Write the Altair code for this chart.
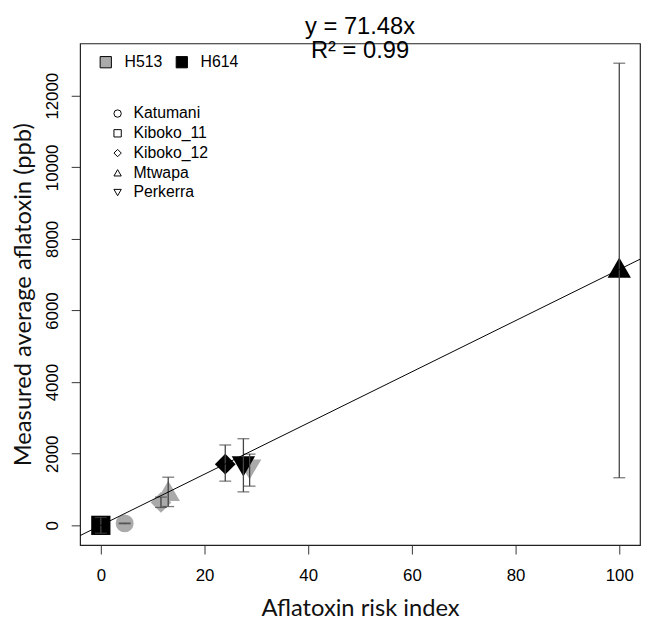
import altair as alt
import pandas as pd

# ---- data ----
variety = ["H513", "H513", "H513", "H513", "H614", "H614", "H614", "H614"]
site = ["Katumani", "Kiboko_12", "Mtwapa", "Perkerra", "Kiboko_11", "Kiboko_12", "Perkerra", "Mtwapa"]
risk_index = [4.6, 11.6, 13.0, 28.7, 0.0, 24.0, 27.5, 100.0]
aflatoxin = [55, 640, 960, 1560, 0, 1710, 1645, 7200]
err_low = [45, 500, 525, 1095, -220, 1235, 935, 1330]
err_high = [65, 790, 1345, 1990, 220, 2245, 2420, 12910]

site_order = ["Katumani", "Kiboko_11", "Kiboko_12", "Mtwapa", "Perkerra"]
site_shapes = ["circle", "square", "diamond", "triangle-up", "triangle-down"]
# marker areas, listed in reverse site order
size_sites = ["Perkerra", "Mtwapa", "Kiboko_12", "Kiboko_11", "Katumani"]
size_values = [560, 560, 440, 380, 330]
variety_order = ["H513", "H614"]
variety_colors = ["#aaaaaa", "#000000"]

fit_slope = 71.48
fit_x = [-4, 104]
eq_line1 = ["y = 71.48x"]
eq_line2 = ["R\u00b2 = 0.99"]
x_ticks = [0, 20, 40, 60, 80, 100]
y_ticks = [0, 2000, 4000, 6000, 8000, 10000, 12000]

df = pd.DataFrame({
    "variety": variety, "site": site, "site_size": site, "risk": risk_index,
    "aflatoxin": aflatoxin, "lo": err_low, "hi": err_high,
})
fit_df = pd.DataFrame({"x": fit_x, "y": [fit_slope * v for v in fit_x]})

W, H = 567, 508
LAB_FONT = "Liberation Sans"
TITLE_FONT = "Lato"

xscale = alt.Scale(domain=[-4, 104], nice=False, zero=False)
yscale = alt.Scale(domain=[-552, 13462], nice=False, zero=False)

xaxis = alt.Axis(values=x_ticks, format="d", tickSize=9, tickColor="#333", tickWidth=1, domain=False,
                 grid=False, labelFont=LAB_FONT, labelFontSize=17, labelColor="black", labelPadding=27,
                 labelBaseline="alphabetic", labelFlush=False,
                 title="Aflatoxin risk index", titleFont=TITLE_FONT, titleFontSize=24,
                 titleFontWeight="normal", titleColor="#111", titleY=71, titleBaseline="alphabetic")
yaxis = alt.Axis(values=y_ticks, format="d", tickSize=9, tickColor="#333", tickWidth=1, domain=False,
                 grid=False, labelFont=LAB_FONT, labelFontSize=17, labelColor="black", labelPadding=14,
                 labelAngle=270, labelAlign="center", labelBaseline="alphabetic", labelFlush=False,
                 title="Measured average aflatoxin (ppb)", titleFont=TITLE_FONT, titleFontSize=24,
                 titleFontWeight="normal", titleColor="#111", titleX=-50, titleY=H / 2,
                 titleAngle=270, titleAlign="center", titleBaseline="alphabetic")

base = alt.Chart(df)

points = base.mark_point(filled=True, opacity=1).encode(
    x=alt.X("risk:Q", scale=xscale, axis=xaxis),
    y=alt.Y("aflatoxin:Q", scale=yscale, axis=yaxis),
    color=alt.Color("variety:N", scale=alt.Scale(domain=variety_order, range=variety_colors),
                    legend=alt.Legend(title=None, orient="none", legendX=18, legendY=11,
                                      direction="horizontal", symbolType="square", symbolSize=130,
                                      symbolStrokeColor="black", symbolStrokeWidth=1,
                                      labelFont=LAB_FONT, labelFontSize=16, labelColor="black",
                                      labelOffset=11, columnPadding=11, padding=0)),
    shape=alt.Shape("site:N", scale=alt.Scale(domain=site_order, range=site_shapes),
                    legend=alt.Legend(title=None, orient="none", legendX=30, legendY=63,
                                      direction="vertical", symbolSize=55,
                                      symbolFillColor="white", symbolStrokeColor="black",
                                      symbolStrokeWidth=1, labelFont=LAB_FONT, labelFontSize=16,
                                      labelColor="black", labelOffset=8, rowPadding=4, padding=0)),
    size=alt.Size("site_size:N", scale=alt.Scale(type="ordinal", domain=size_sites, range=size_values),
                  legend=None),
)

err_rule = base.mark_rule(color="#444", strokeWidth=1.3).encode(
    x="risk:Q", y="lo:Q", y2="hi:Q")
cap_lo = base.mark_tick(orient="horizontal", size=12, thickness=1.3, color="#444").encode(
    x="risk:Q", y="lo:Q")
cap_hi = base.mark_tick(orient="horizontal", size=12, thickness=1.3, color="#444").encode(
    x="risk:Q", y="hi:Q")

fit_line = alt.Chart(fit_df).mark_line(clip=True, color="black", strokeWidth=1).encode(
    x="x:Q", y="y:Q")

t1 = alt.Chart(pd.DataFrame({"t": eq_line1})).mark_text(
    font=LAB_FONT, fontSize=24, align="center", baseline="alphabetic", color="black").encode(
    text="t:N", x=alt.value(W / 2), y=alt.value(-10))
t2 = alt.Chart(pd.DataFrame({"t": eq_line2})).mark_text(
    font=LAB_FONT, fontSize=24, align="center", baseline="alphabetic", color="black").encode(
    text="t:N", x=alt.value(W / 2), y=alt.value(15))

chart = alt.layer(points, err_rule, cap_lo, cap_hi, fit_line, t1, t2).properties(
    width=W, height=H,
    autosize=alt.AutoSizeParams(type="none"),
    padding={"left": 73, "top": 32, "right": 1, "bottom": 76},
    background="white",
).configure_view(stroke="#222", strokeWidth=1.2)

chart.save("out.html", embed_options={"renderer": "svg", "actions": False})
